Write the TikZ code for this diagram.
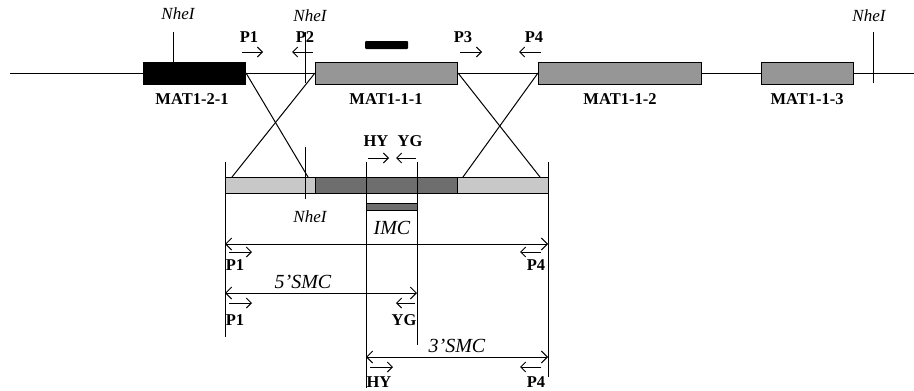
\documentclass[tikz,border=0pt]{standalone}
\usepackage{fontspec}
\setmainfont{Liberation Serif}
\usetikzlibrary{arrows.meta}
\definecolor{genegray}{RGB}{150,150,150}
\definecolor{darkg}{RGB}{110,110,110}
\definecolor{lightg}{RGB}{200,200,200}
\begin{document}
\begin{tikzpicture}[x=1pt,y=-1pt,
  ln/.style={line width=1pt},
  gene/.style={draw, line width=1pt, fill=genegray, minimum height=22pt, inner sep=0pt, anchor=west},
  seg/.style={draw, line width=1pt, minimum height=16pt, inner sep=0pt, anchor=west},
  lab/.style={font=\bfseries\fontsize{16.5}{16.5}\selectfont, inner sep=0pt},
  site/.style={font=\itshape\fontsize{17}{17}\selectfont, inner sep=0pt},
  big/.style={font=\itshape\fontsize{20}{20}\selectfont, inner sep=0pt},
  pr/.style={-{Straight Barb[length=5pt,width=10pt]}, line width=1pt},
  dimline/.style={{Straight Barb[length=6pt,width=12pt]}-{Straight Barb[length=6pt,width=12pt]}, line width=1pt}]
\useasboundingbox (0,0) rectangle (914,391);
\fill[white] (0,0) rectangle (914,391);

% backbone
\coordinate (bbL) at (10,73);
\coordinate (bbR) at (914,73);
\draw[ln] (bbL) -- (bbR);

% genes
\node[gene, fill=black, minimum width=102pt] (g121) at (143,73) {};
\node[gene, minimum width=142pt] (g111) at (315,73) {};
\node[gene, minimum width=163pt] (g112) at (538,73) {};
\node[gene, minimum width=92pt] (g113) at (761,73) {};
\node[lab] (l121) at (192,99) {MAT1-2-1};
\node[lab] (l111) at (386,99) {MAT1-1-1};
\node[lab] (l112) at (620,99) {MAT1-1-2};
\node[lab] (l113) at (807,99) {MAT1-1-3};

% probe bar
\fill[black, rounded corners=1pt] (365,41) rectangle (408,49);

% NheI sites (top)
\node[site] (n1) at (178,14) {NheI};
\coordinate (n1a) at (173,32); \coordinate (n1b) at (173,62);
\draw[ln] (n1a) -- (n1b);
\node[site] (n2) at (310,16) {NheI};
\coordinate (n2a) at (305,32); \coordinate (n2b) at (305,83);
\draw[ln] (n2a) -- (n2b);
\node[site] (n3) at (869,16) {NheI};
\coordinate (n3a) at (873,32); \coordinate (n3b) at (873,83);
\draw[ln] (n3a) -- (n3b);

% primers top
\node[lab] (p1) at (249,37) {P1};
\coordinate (p1a) at (242,52); \coordinate (p1b) at (263,52);
\draw[pr] (p1a) -- (p1b);
\node[lab] (p2) at (305,37) {P2};
\coordinate (p2a) at (313,52); \coordinate (p2b) at (292,52);
\draw[pr] (p2a) -- (p2b);
\node[lab] (p3) at (463,37) {P3};
\coordinate (p3a) at (460,52); \coordinate (p3b) at (482,52);
\draw[pr] (p3a) -- (p3b);
\node[lab] (p4) at (534,37) {P4};
\coordinate (p4a) at (541,52); \coordinate (p4b) at (519,52);
\draw[pr] (p4a) -- (p4b);

% lower construct
\node[seg, fill=lightg, minimum width=90pt] (s1) at (225,185) {};
\node[seg, fill=darkg, minimum width=142pt] (s2) at (315,185) {};
\node[seg, fill=lightg, minimum width=91pt] (s3) at (457,185) {};

% crossovers
\coordinate (c1) at (308,177); \coordinate (c2) at (232,177);
\coordinate (c3) at (540,177); \coordinate (c4) at (463,177);
\draw[ln] (g121.east) -- (c1);
\draw[ln] (g111.west) -- (c2);
\draw[ln] (g111.east) -- (c3);
\draw[ln] (g112.west) -- (c4);

% lower NheI
\coordinate (n4a) at (305,147); \coordinate (n4b) at (305,199);
\draw[ln] (n4a) -- (n4b);
\node[site] (n4) at (310,217) {NheI};

% guide lines
\coordinate (vLa) at (225,162); \coordinate (vLb) at (225,337);
\coordinate (vRa) at (548,162); \coordinate (vRb) at (548,377);
\coordinate (vHa) at (366,162); \coordinate (vHb) at (366,388);
\coordinate (vYa) at (417,162); \coordinate (vYb) at (417,345);
\draw[ln] (vLa) -- (vLb);
\draw[ln] (vRa) -- (vRb);
\draw[ln] (vHa) -- (vHb);
\draw[ln] (vYa) -- (vYb);

% HY / YG
\node[lab] (hy) at (376,141) {HY};
\node[lab] (yg) at (410,141) {YG};
\coordinate (hya) at (368,158); \coordinate (hyb) at (389,158);
\draw[pr] (hya) -- (hyb);
\coordinate (yga) at (416,158); \coordinate (ygb) at (396,158);
\draw[pr] (yga) -- (ygb);

% IMC marker
\draw[ln, fill=darkg] (366,203) rectangle (417,210);
\node[big] (imc) at (392,228) {IMC};

% IMC dimension
\coordinate (d1a) at (225,244); \coordinate (d1b) at (548,244);
\draw[dimline] (d1a) -- (d1b);
\coordinate (q1a) at (229,252); \coordinate (q1b) at (252,252);
\draw[pr] (q1a) -- (q1b);
\node[lab] (q1) at (235,265) {P1};
\coordinate (q2a) at (541,252); \coordinate (q2b) at (520,252);
\draw[pr] (q2a) -- (q2b);
\node[lab] (q2) at (536,265) {P4};

% 5'SMC
\node[big] (smc5) at (303,282) {5'SMC};
\coordinate (d2a) at (225,293); \coordinate (d2b) at (417,293);
\draw[dimline] (d2a) -- (d2b);
\coordinate (q3a) at (229,303); \coordinate (q3b) at (252,303);
\draw[pr] (q3a) -- (q3b);
\node[lab] (q3) at (235,320) {P1};
\coordinate (q4a) at (415,303); \coordinate (q4b) at (396,303);
\draw[pr] (q4a) -- (q4b);
\node[lab] (q4) at (404,320) {YG};

% 3'SMC
\node[big] (smc3) at (457,346) {3'SMC};
\coordinate (d3a) at (366,357); \coordinate (d3b) at (548,357);
\draw[dimline] (d3a) -- (d3b);
\coordinate (q5a) at (370,367); \coordinate (q5b) at (393,367);
\draw[pr] (q5a) -- (q5b);
\node[lab] (q5) at (379,382) {HY};
\coordinate (q6a) at (541,367); \coordinate (q6b) at (520,367);
\draw[pr] (q6a) -- (q6b);
\node[lab] (q6) at (536,382) {P4};
\end{tikzpicture}
\end{document}
